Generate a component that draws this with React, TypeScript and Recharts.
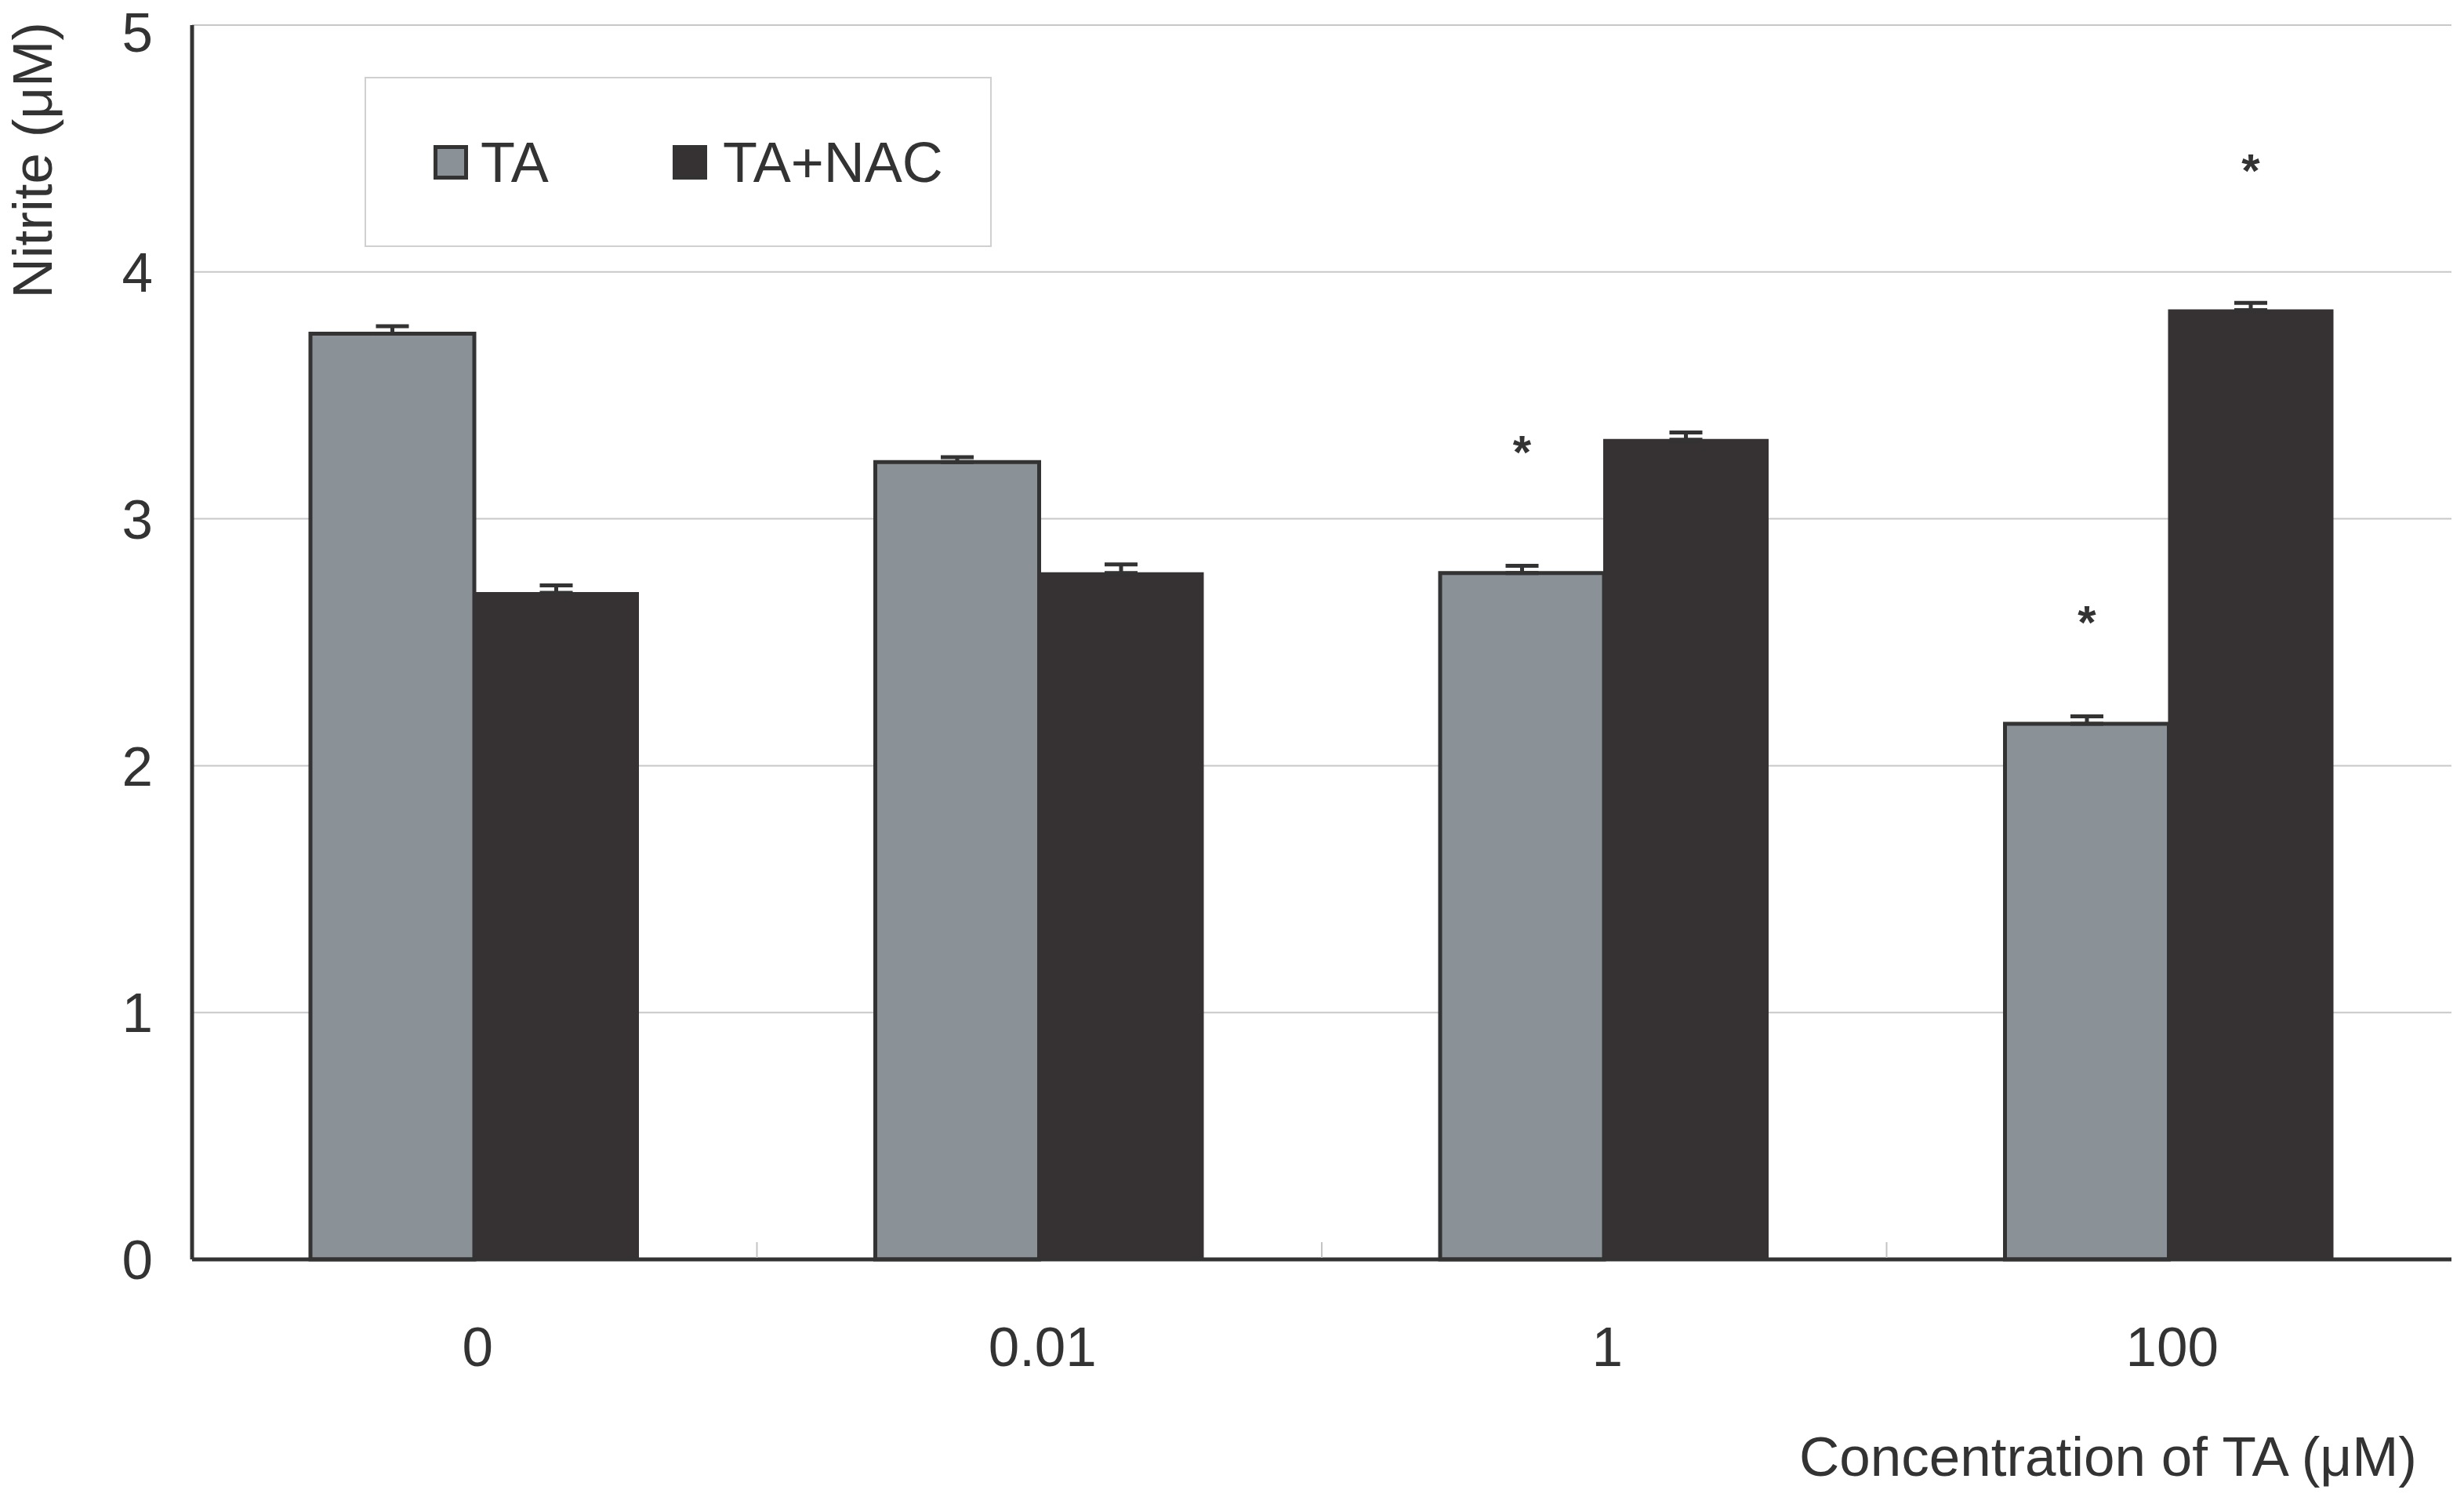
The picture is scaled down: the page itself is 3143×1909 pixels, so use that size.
import React from 'react';
import { ComposedChart, Bar, XAxis, YAxis, CartesianGrid, ErrorBar, Legend, LabelList } from 'recharts';

const categories = ['0', '0.01', '1', '100'];
const taValues = [3.75, 3.23, 2.78, 2.17];
const taErrors = [0.03, 0.02, 0.03, 0.03];
const nacValues = [2.7, 2.78, 3.32, 3.845];
const nacErrors = [0.03, 0.035, 0.03, 0.03];
const taStars: (number | null)[] = [null, null, 3.31, 2.62];
const nacStars: (number | null)[] = [null, null, null, 4.45];
const yTicks = [0, 1, 2, 3, 4, 5];

const FONT = '"Liberation Sans", Arial, Helvetica, sans-serif';
const TEXT = '#333';
const TA_FILL = '#8a9298';
const NAC_FILL = '#363234';

const data = categories.map((c, i) => ({
  cat: c,
  ta: taValues[i],
  taErr: [0, taErrors[i]],
  nac: nacValues[i],
  nacErr: [0, nacErrors[i]],
}));

const makeStar = (stars: (number | null)[], values: number[]) => (props: any) => {
  const vb = props.viewBox && props.viewBox.width != null ? props.viewBox : props;
  const { x, y, width, height } = vb;
  const index = props.index;
  const s = stars[index];
  if (s == null || x == null) return null;
  const v = values[index];
  const pxPerUnit = height / v;
  const cy = y - (s - v) * pxPerUnit;
  return (
    <text x={x + width / 2} y={cy + 33} textAnchor="middle" fontFamily={FONT} fontSize={60} fontWeight="bold" fill={TEXT}>
      *
    </text>
  );
};

const XTick = (props: any) => {
  const { x, y, payload, index, visibleTicksCount, width } = props;
  const half = payload && payload.offset ? payload.offset : width / (2 * visibleTicksCount);
  return (
    <g>
      {index < visibleTicksCount - 1 && (
        <line x1={x + half} x2={x + half} y1={y - 2} y2={y - 22} stroke="#c4c4c4" strokeWidth={2} />
      )}
      <text x={x + 4} y={y + 136} textAnchor="middle" fontFamily={FONT} fontSize={71} fill={TEXT}>
        {payload.value}
      </text>
    </g>
  );
};

const YLabel = (props: any) => (
  <text
    x={66}
    y={28}
    transform="rotate(-90, 66, 28)"
    textAnchor="end"
    fontFamily={FONT}
    fontSize={71}
    fill={TEXT}
  >
    Nitrite (μM)
  </text>
);

const XLabel = (props: any) => {
  const vb = props.viewBox || {};
  return (
    <text
      x={vb.x + vb.width - 44}
      y={vb.y + 276}
      textAnchor="end"
      fontFamily={FONT}
      fontSize={71}
      fill={TEXT}
    >
      Concentration of TA (μM)
    </text>
  );
};

const LegendBox = (props: any) => {
  const payload = props.payload || [];
  return (
    <div
      style={{
        boxSizing: 'border-box',
        width: 800,
        height: 217,
        border: '2px solid #d0d0d0',
        background: '#fff',
        position: 'relative',
        fontFamily: FONT,
        fontSize: 72,
        color: TEXT,
      }}
    >
      {payload.map((p: any, i: number) => (
        <div
          key={i}
          style={{
            position: 'absolute',
            left: i === 0 ? 86 : 391,
            top: 0,
            height: 213,
            display: 'flex',
            alignItems: 'center',
          }}
        >
          <div
            style={{
              width: 44,
              height: 44,
              boxSizing: 'border-box',
              background: p.color,
              border: '5px solid #333',
              marginRight: i === 0 ? 16 : 20,
            }}
          />
          <span style={{ lineHeight: '72px' }}>{p.value}</span>
        </div>
      ))}
    </div>
  );
};

export default function App() {
  return (
    <div style={{ position: 'absolute', left: 0, top: 0, width: 3143, height: 1909, background: '#fff' }}>
      <ComposedChart
        width={3143}
        height={1909}
        data={data}
        margin={{ top: 32, right: 16, left: 0, bottom: 0 }}
        barGap={0}
      >
        <CartesianGrid vertical={false} stroke="#c8c8c8" strokeWidth={2} />
        <XAxis
          dataKey="cat"
          height={303}
          tickSize={0}
          tickMargin={0}
          tickLine={false}
          axisLine={{ stroke: '#333', strokeWidth: 5 }}
          tick={<XTick />}
          interval={0}
          label={<XLabel />}
        />
        <XAxis
          xAxisId="top"
          dataKey="cat"
          orientation="top"
          height={0}
          tick={false}
          tickLine={false}
          axisLine={{ stroke: '#333', strokeWidth: 5 }}
        />
        <YAxis
          width={245}
          domain={[0, 5]}
          ticks={yTicks}
          tickSize={0}
          tickMargin={50}
          tickLine={false}
          axisLine={{ stroke: '#333', strokeWidth: 5 }}
          tick={{ fontFamily: FONT, fontSize: 71, fill: TEXT }}
          label={<YLabel />}
        />
        <YAxis
          yAxisId="right"
          orientation="right"
          width={0}
          domain={[0, 5]}
          tick={false}
          tickLine={false}
          axisLine={{ stroke: '#333', strokeWidth: 5 }}
        />
        <Legend
          layout="horizontal"
          verticalAlign="middle"
          align="center"
          content={<LegendBox />}
          wrapperStyle={{ left: 465, top: 98, width: 800, height: 217 }}
        />
        <Bar dataKey="ta" name="TA" fill={TA_FILL} stroke="#333" strokeWidth={5} barSize={209} isAnimationActive={false}>
          <ErrorBar dataKey="taErr" width={21} stroke="#333" strokeWidth={5} direction="y" />
          <LabelList dataKey="ta" content={makeStar(taStars, taValues)} />
        </Bar>
        <Bar dataKey="nac" name="TA+NAC" fill={NAC_FILL} stroke={NAC_FILL} strokeWidth={2} barSize={209} isAnimationActive={false}>
          <ErrorBar dataKey="nacErr" width={21} stroke="#333" strokeWidth={5} direction="y" />
          <LabelList dataKey="nac" content={makeStar(nacStars, nacValues)} />
        </Bar>
      </ComposedChart>
    </div>
  );
}
